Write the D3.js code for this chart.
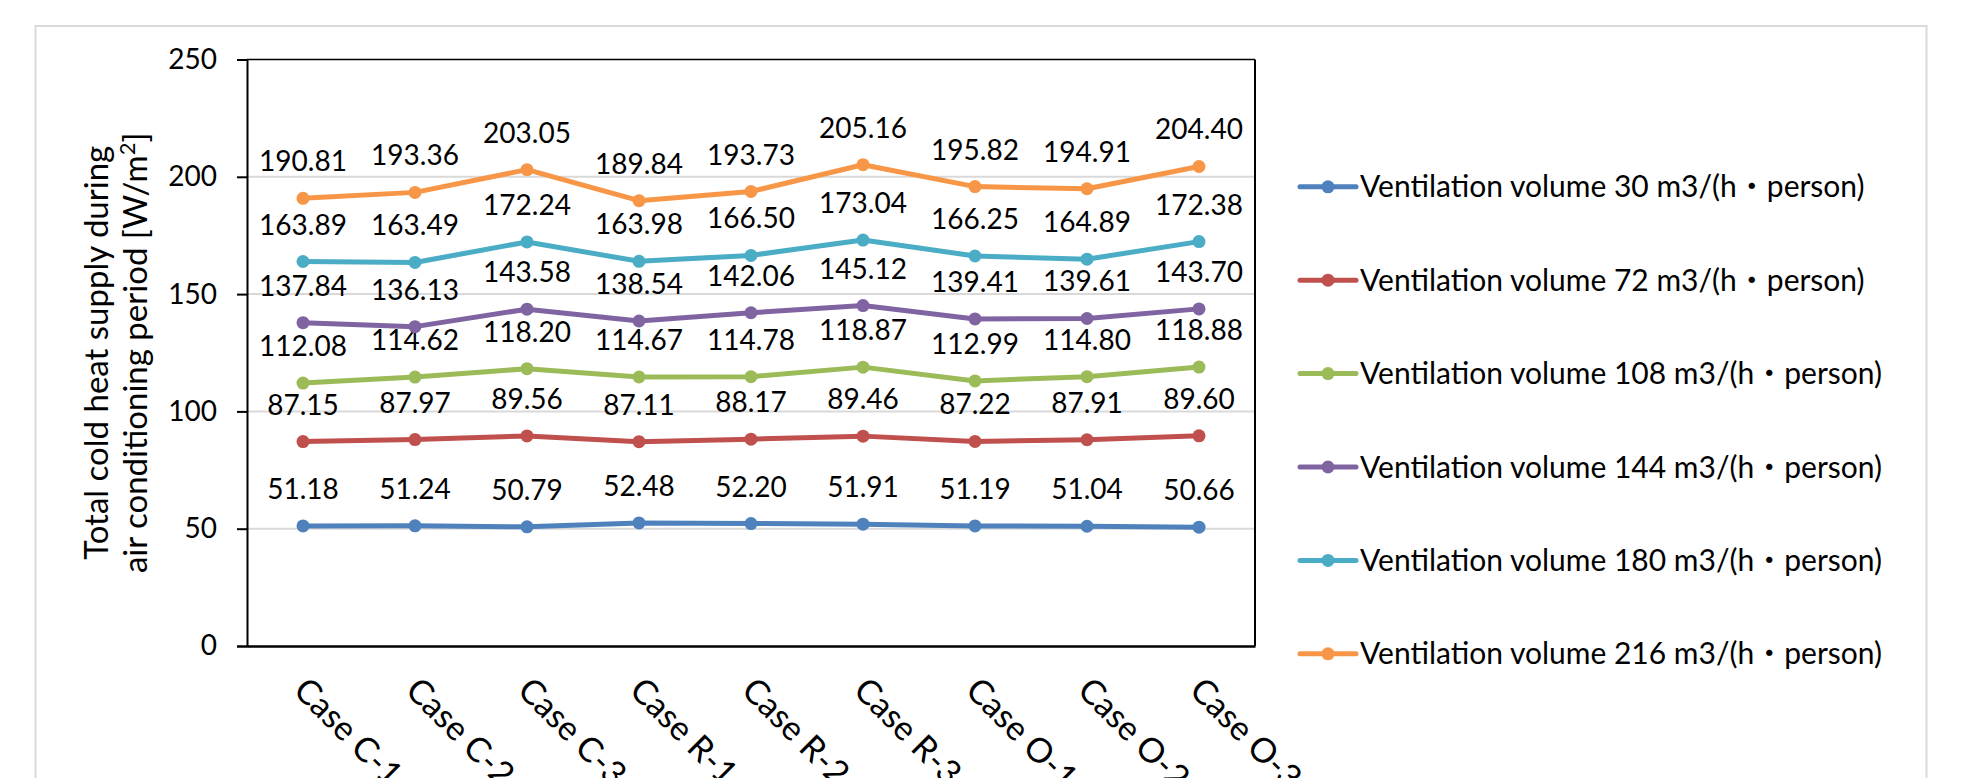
<!DOCTYPE html>
<html>
<head>
<meta charset="utf-8">
<script src="https://cdn.jsdelivr.net/npm/d3@7"></script>
<style>
  html, body { margin: 0; padding: 0; background: #fff; }
  svg { display: block; }
  text { font-family: Lato, "Noto Sans CJK JP", sans-serif; fill: #000; }
</style>
</head>
<body>
<svg id="chart" width="1977" height="778"></svg>
<script>
const categories = ["Case C-1", "Case C-2", "Case C-3", "Case R-1", "Case R-2", "Case R-3", "Case O-1", "Case O-2", "Case O-3"];
const seriesNames = [
  "Ventilation volume 30 m3/(h\u30FBperson)",
  "Ventilation volume 72 m3/(h\u30FBperson)",
  "Ventilation volume 108 m3/(h\u30FBperson)",
  "Ventilation volume 144 m3/(h\u30FBperson)",
  "Ventilation volume 180 m3/(h\u30FBperson)",
  "Ventilation volume 216 m3/(h\u30FBperson)"
];
const v30  = [51.18, 51.24, 50.79, 52.48, 52.20, 51.91, 51.19, 51.04, 50.66];
const v72  = [87.15, 87.97, 89.56, 87.11, 88.17, 89.46, 87.22, 87.91, 89.60];
const v108 = [112.08, 114.62, 118.20, 114.67, 114.78, 118.87, 112.99, 114.80, 118.88];
const v144 = [137.84, 136.13, 143.58, 138.54, 142.06, 145.12, 139.41, 139.61, 143.70];
const v180 = [163.89, 163.49, 172.24, 163.98, 166.50, 173.04, 166.25, 164.89, 172.38];
const v216 = [190.81, 193.36, 203.05, 189.84, 193.73, 205.16, 195.82, 194.91, 204.40];
const colors = ["#4F81BD", "#C0504D", "#9BBB59", "#8064A2", "#4BACC6", "#F79646"];
const yTicks = [0, 50, 100, 150, 200, 250];

const series = [v30, v72, v108, v144, v180, v216].map((vals, i) => ({
  name: seriesNames[i], color: colors[i],
  values: vals.map((v, j) => ({ cat: categories[j], v }))
}));

const svg = d3.select("#chart");
const L = 247, R = 1255, T = 59.5, B = 646;

// outer chart frame
svg.append("rect").attr("x", 35.5).attr("y", 26).attr("width", 1891).attr("height", 800)
  .attr("fill", "#fff").attr("stroke", "#d9d9d9").attr("stroke-width", 2);

const x = d3.scaleBand().domain(categories).range([L, R]).padding(0);
const y = d3.scaleLinear().domain([0, 250]).range([B, T]);
const cx = c => x(c) + x.bandwidth() / 2;

// gridlines
svg.append("g").selectAll("line").data(yTicks.filter(t => t > 0 && t < 250)).join("line")
  .attr("x1", L).attr("x2", R).attr("y1", d => y(d)).attr("y2", d => y(d))
  .attr("stroke", "#d9d9d9").attr("stroke-width", 2);

// plot border (top & right)
svg.append("line").attr("x1", L).attr("x2", R).attr("y1", T).attr("y2", T).attr("stroke", "#000").attr("stroke-width", 1.5);
svg.append("line").attr("x1", R).attr("x2", R).attr("y1", T).attr("y2", B).attr("stroke", "#000").attr("stroke-width", 2);

// y axis
const yAxis = d3.axisLeft(y).tickValues(yTicks).tickSize(10).tickPadding(20).tickFormat(d3.format("d"));
const gy = svg.append("g").attr("transform", `translate(${L},0)`).call(yAxis);
gy.select(".domain").attr("stroke", "#000").attr("stroke-width", 2);
gy.selectAll(".tick line").attr("stroke", "#000").attr("stroke-width", 2);
gy.selectAll(".tick text").attr("font-size", 28).attr("font-family", "Lato").attr("fill", "#000");

// x axis
const xAxis = d3.axisBottom(x).tickSize(0).tickFormat(d => d);
const gx = svg.append("g").attr("transform", `translate(0,${B})`).call(xAxis);
gx.select(".domain").attr("stroke", "#000").attr("stroke-width", 2.5);
gx.selectAll(".tick text")
  .attr("font-size", 34).attr("font-family", "Lato").attr("fill", "#000")
  .attr("text-anchor", "start").attr("dy", null).attr("y", 0)
  .attr("transform", "translate(-11,46) rotate(45)");

// y title
const title = svg.append("text").attr("transform", `translate(0,${(T + B) / 2}) rotate(-90)`)
  .attr("text-anchor", "middle").attr("font-size", 33);
title.append("tspan").attr("x", 0).attr("y", 108).text("Total cold heat supply during");
title.append("tspan").attr("x", 0).attr("y", 147).text("air conditioning period [W/m");
title.append("tspan").attr("font-size", 22).attr("dy", -12).text("2");
title.append("tspan").attr("dy", 12).text("]");

// lines
const line = d3.line().x(d => cx(d.cat)).y(d => y(d.v));
const gs = svg.append("g").selectAll("g").data(series).join("g");
gs.append("path").attr("d", d => line(d.values)).attr("fill", "none")
  .attr("stroke", d => d.color).attr("stroke-width", 5).attr("stroke-linejoin", "round").attr("stroke-linecap", "round");
gs.selectAll("circle").data(d => d.values.map(v => ({ ...v, color: d.color }))).join("circle")
  .attr("cx", d => cx(d.cat)).attr("cy", d => y(d.v)).attr("r", 6.5).attr("fill", d => d.color);

// data labels
gs.selectAll("text.lbl").data(d => d.values).join("text").attr("class", "lbl")
  .attr("x", d => cx(d.cat)).attr("y", d => y(d.v) - 27)
  .attr("text-anchor", "middle").attr("font-size", 28)
  .text(d => d.v.toFixed(2));

// legend
const lg = svg.append("g").selectAll("g").data(series).join("g")
  .attr("transform", (d, i) => `translate(1300,${186.8 + i * 93.4})`);
lg.append("line").attr("x1", 0).attr("x2", 56).attr("stroke", d => d.color).attr("stroke-width", 5).attr("stroke-linecap", "round");
lg.append("circle").attr("cx", 28).attr("r", 6.5).attr("fill", d => d.color);
lg.append("text").attr("x", 60).attr("dy", "0.35em").attr("font-size", 30).text(d => d.name);
</script>
</body>
</html>
